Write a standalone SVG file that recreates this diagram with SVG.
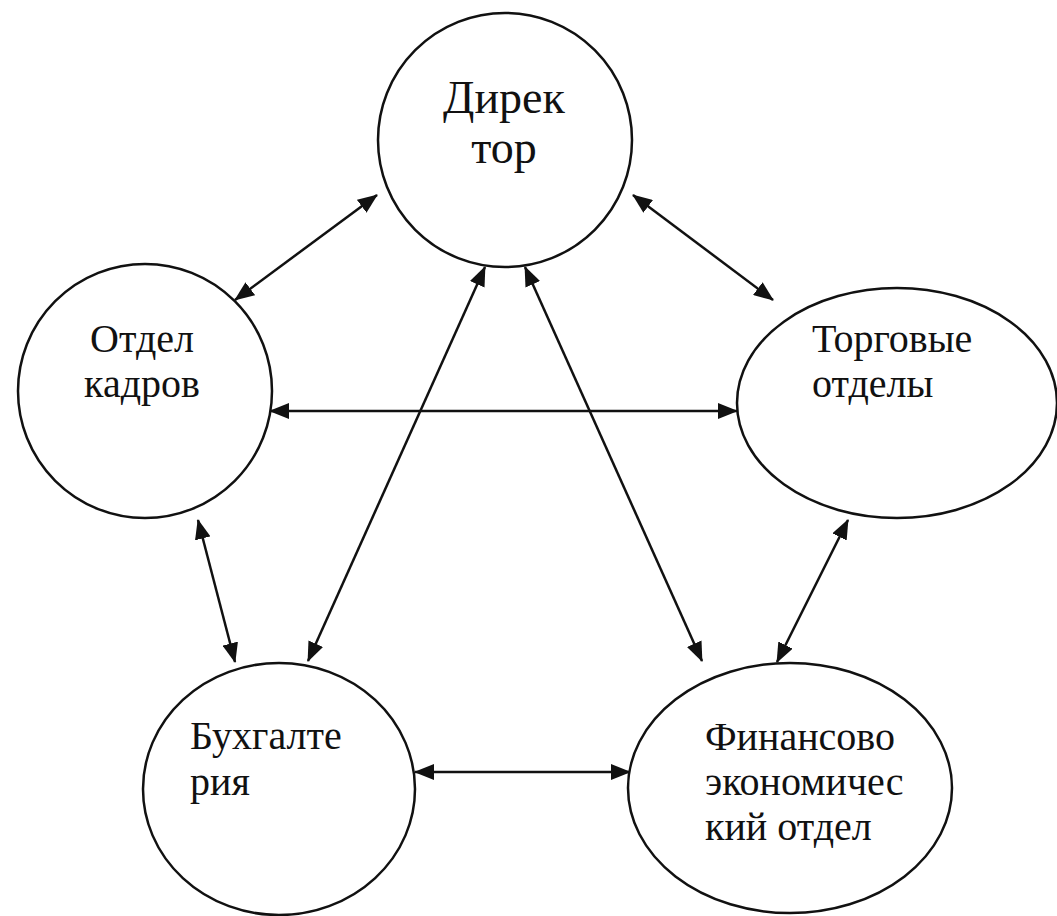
<svg xmlns="http://www.w3.org/2000/svg" width="1057" height="916" viewBox="0 0 1057 916">
<style>
.node{fill:#fff;stroke:#111;stroke-width:2.5}
.lbl{font-family:"Liberation Serif","Times New Roman",serif;font-size:40px;fill:#111}
.big{font-size:46px}
.conn{stroke:#111;stroke-width:2.5;fill:none;marker-start:url(#ah);marker-end:url(#ah)}
</style>
<defs>
<marker id="ah" markerUnits="userSpaceOnUse" markerWidth="20" markerHeight="16" refX="19" refY="8" orient="auto-start-reverse">
<path d="M0,0 L20,8 L0,16 z" fill="#111"/>
</marker>
</defs>
<rect width="1057" height="916" fill="#fff"/>
<g id="connectors">
<line class="conn" x1="377" y1="195" x2="235" y2="300"/>
<line class="conn" x1="633" y1="195" x2="773" y2="300"/>
<line class="conn" x1="270" y1="411" x2="737" y2="411"/>
<line class="conn" x1="485" y1="267" x2="308" y2="661"/>
<line class="conn" x1="525" y1="267" x2="702" y2="661"/>
<line class="conn" x1="198" y1="520" x2="235" y2="662"/>
<line class="conn" x1="848" y1="520" x2="777" y2="662"/>
<line class="conn" x1="415" y1="772" x2="630" y2="772"/>
</g>
<g id="director">
<ellipse class="node" cx="505" cy="140" rx="127" ry="127"/>
<text class="lbl big" x="504" y="113" text-anchor="middle">Дирек</text>
<text class="lbl big" x="504" y="163" text-anchor="middle">тор</text>
</g>
<g id="hr">
<ellipse class="node" cx="145" cy="391" rx="127" ry="127"/>
<text class="lbl" x="142" y="352" text-anchor="middle">Отдел</text>
<text class="lbl" x="142" y="397" text-anchor="middle">кадров</text>
</g>
<g id="trade">
<ellipse class="node" cx="897" cy="403" rx="160" ry="115"/>
<text class="lbl" x="812" y="352">Торговые</text>
<text class="lbl" x="812" y="397">отделы</text>
</g>
<g id="accounting">
<ellipse class="node" cx="279" cy="789" rx="136" ry="126"/>
<text class="lbl" x="190" y="749">Бухгалте</text>
<text class="lbl" x="190" y="795">рия</text>
</g>
<g id="finance">
<ellipse class="node" cx="790" cy="788" rx="162" ry="125"/>
<text class="lbl" x="705" y="750">Финансово</text>
<text class="lbl" x="705" y="795">экономичес</text>
<text class="lbl" x="705" y="840">кий отдел</text>
</g>
</svg>
